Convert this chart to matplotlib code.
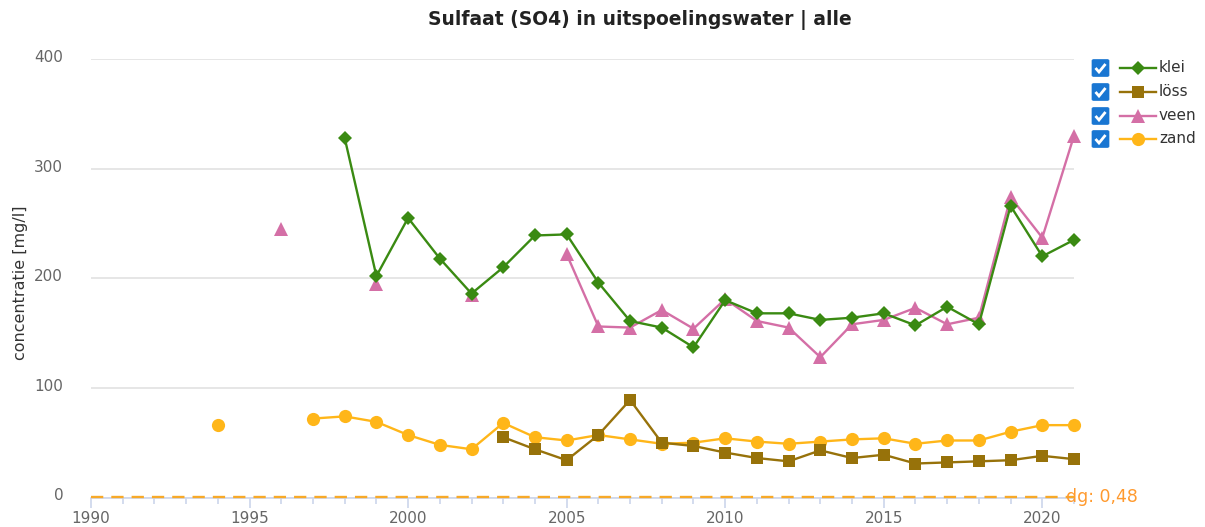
import numpy as np
import matplotlib
matplotlib.use("Agg")
import matplotlib.pyplot as plt
import matplotlib.transforms as mtransforms
from matplotlib.lines import Line2D
from matplotlib.patches import FancyBboxPatch

nan = np.nan
years = list(range(1994, 2022))

# values per year 1994..2021 (NaN = no measurement)
klei = [nan, nan, nan, nan, 328, 202, 255, 218, 186, 210, 239, 240, 196, 161,
        155, 137, 180, 168, 168, 162, 164, 168, 157, 174, 158, 266, 220, 235]
loss = [nan, nan, nan, nan, nan, nan, nan, nan, nan, 55, 44, 34, 57, 89,
        50, 47, 41, 36, 33, 43, 36, 39, 31, 32, 33, 34, 38, 35]
veen = [nan, nan, 245, nan, nan, 195, nan, nan, 185, nan, nan, 222, 156, 155,
        171, 154, 181, 161, 155, 128, 158, 162, 173, 158, 164, 274, 237, 330]
zand = [66, nan, nan, 72, 74, 69, 57, 48, 44, 68, 55, 52, 57, 53,
        49, 50, 54, 51, 49, 51, 53, 54, 49, 52, 52, 60, 66, 66]

series_names = ["klei", "löss", "veen", "zand"]
dg_value = 0.48
dg_label = "dg: 0,48"
title = "Sulfaat (SO4) in uitspoelingswater | alle"
ylabel = "concentratie [mg/l]"

W, H = 1205, 527
fig = plt.figure(figsize=(W / 100, H / 100), dpi=100)
ax = fig.add_axes([91 / W, 1 - 497.5 / H, (1074 - 91) / W, (497.5 - 59) / H])

styles = {
    "klei": dict(color="#3a8a12", marker="D", ms=7),
    "löss": dict(color="#97720a", marker="s", ms=8.5),
    "veen": dict(color="#d46fa6", marker="^", ms=9.5),
    "zand": dict(color="#ffb619", marker="o", ms=9.5),
}
data = {"klei": klei, "löss": loss, "veen": veen, "zand": zand}

# detection-limit line
ax.plot([1990, 2021], [dg_value, dg_value], color="#f7a928", lw=1.7,
        dashes=(5.2, 3.4), clip_on=False, zorder=3)
ax.annotate(dg_label, xy=(2021, dg_value), xytext=(-6, 0), textcoords="offset points",
            ha="left", va="center", color="#ff9a2e", fontsize=12.5,
            annotation_clip=False, zorder=6)

for name in ["zand", "löss", "veen", "klei"]:
    st = styles[name]
    ax.plot(years, data[name], color=st["color"], lw=1.7, marker=st["marker"],
            ms=st["ms"], markeredgewidth=0, clip_on=False, zorder=4)

ax.set_xlim(1990, 2021)
ax.set_ylim(0, 400)
ax.set_yticks([0, 100, 200, 300, 400])
ax.set_xticks(range(1990, 2021, 5))
ax.set_xticks(range(1990, 2022), minor=True)

for s in ["top", "right", "left"]:
    ax.spines[s].set_visible(False)
ax.spines["bottom"].set_color("#ccd6eb")
ax.spines["bottom"].set_linewidth(1.2)
ax.grid(axis="y", color="#e2e2e2", lw=1.2)
ax.set_axisbelow(True)
ax.tick_params(axis="y", length=0, pad=20, labelsize=11, labelcolor="#666666")
ax.tick_params(axis="x", which="major", length=7, width=1.2, color="#ccd6eb",
               pad=2.5, labelsize=11, labelcolor="#666666")
ax.tick_params(axis="x", which="minor", length=4, width=1.2, color="#ccd6eb")
offset = mtransforms.ScaledTranslation(0, 3 / 100, fig.dpi_scale_trans)
for lab in ax.get_yticklabels():
    lab.set_transform(lab.get_transform() + offset)
ax.set_ylabel(ylabel, fontsize=11.5, color="#333333")
ax.yaxis.set_label_coords(-63 / (1074 - 91), 0.49)

fig.text(640 / W, 1 - 20 / H, title, ha="center", va="center", fontsize=13.5,
         fontweight="bold", color="#222222")

# legend with check boxes
def fx(x):
    return x / W

def fy(y):
    return 1 - y / H

legend_y = [68, 92, 116, 139]
for name, yy in zip(series_names, legend_y):
    st = styles[name]
    box = FancyBboxPatch((fx(1092), fy(yy + 8.5)), 17 / W, 17 / H,
                         boxstyle="round,pad=0,rounding_size=0.002",
                         transform=fig.transFigure, facecolor="#1976d2",
                         edgecolor="#1976d2", lw=0.5)
    fig.add_artist(box)
    fig.add_artist(Line2D([fx(1095.5), fx(1099), fx(1105.5)],
                          [fy(yy), fy(yy + 4), fy(yy - 4)],
                          transform=fig.transFigure, color="white", lw=2,
                          solid_capstyle="butt", solid_joinstyle="miter"))
    fig.add_artist(Line2D([fx(1120), fx(1156)], [fy(yy), fy(yy)],
                          transform=fig.transFigure, color=st["color"], lw=1.7))
    fig.add_artist(Line2D([fx(1138)], [fy(yy)], transform=fig.transFigure,
                          color=st["color"], marker=st["marker"], ms=st["ms"],
                          markeredgewidth=0))
    fig.text(fx(1159), fy(yy), name, ha="left", va="center", fontsize=11,
             color="#333333")

fig.savefig("out.png", dpi=100)
